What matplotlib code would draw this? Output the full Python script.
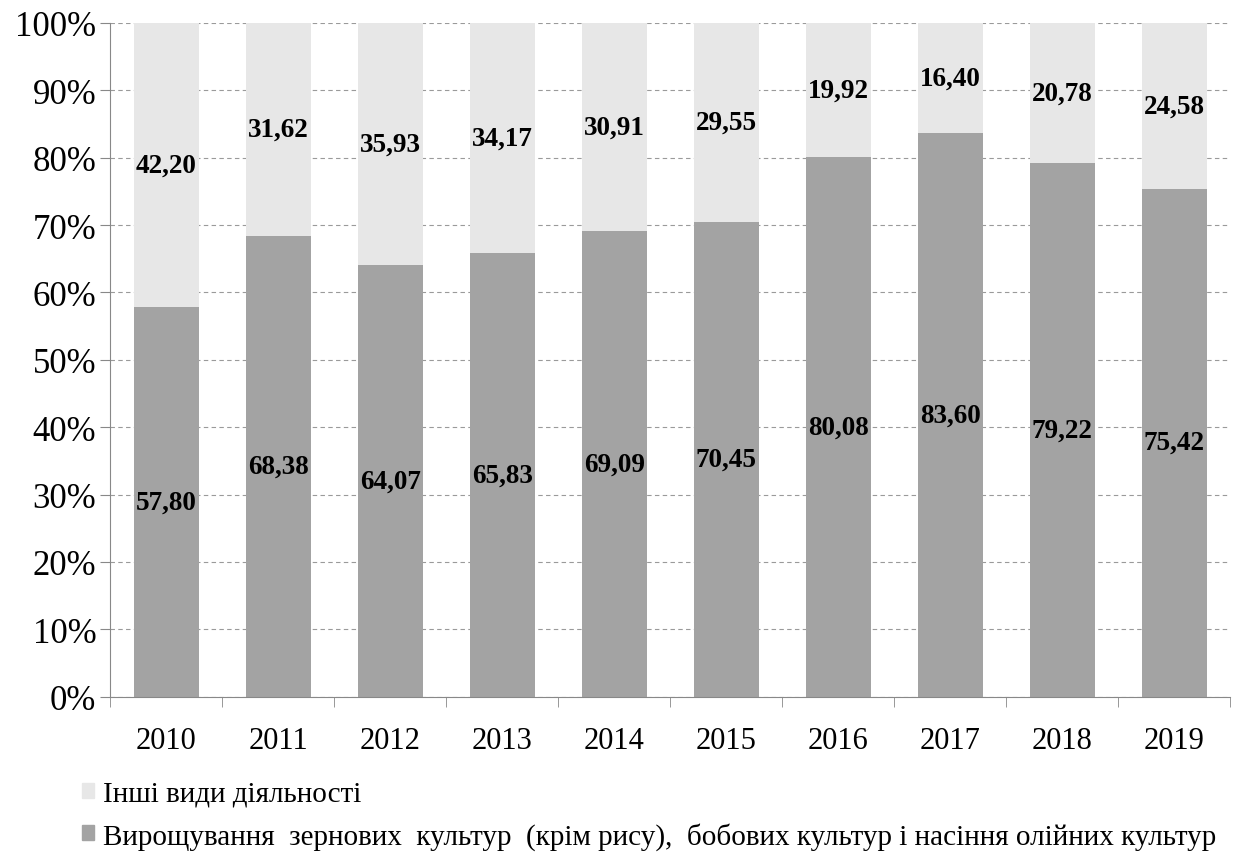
import numpy as np
import matplotlib
matplotlib.use('Agg')
import matplotlib.pyplot as plt
from matplotlib.patches import Patch

plt.rcParams['font.family'] = ['Liberation Serif', 'DejaVu Serif']

# shares of agricultural output, %
years = ['2010', '2011', '2012', '2013', '2014', '2015', '2016', '2017', '2018', '2019']
grain = [57.80, 68.38, 64.07, 65.83, 69.09, 70.45, 80.08, 83.60, 79.22, 75.42]
other = [42.20, 31.62, 35.93, 34.17, 30.91, 29.55, 19.92, 16.40, 20.78, 24.58]

lbl_other = 'Інші види діяльності'
lbl_grain = 'Вирощування  зернових  культур  (крім рису),  бобових культур і насіння олійних культур'

c_grain = '#a3a3a3'
c_other = '#e7e7e7'

fig = plt.figure(figsize=(12.4, 8.54), dpi=100)
ax = fig.add_axes([0.089, 0.183, 0.903, 0.789])

x = np.arange(len(years))
w = 0.58
ax.bar(x, grain, w, color=c_grain, zorder=2)
ax.bar(x, other, w, bottom=grain, color=c_other, zorder=2)

for i in range(len(years)):
    ax.text(x[i], grain[i] / 2, f'{grain[i]:.2f}'.replace('.', ','),
            ha='center', va='center', fontsize=19.5, fontweight='bold', zorder=3)
    ax.text(x[i], grain[i] + other[i] / 2, f'{other[i]:.2f}'.replace('.', ','),
            ha='center', va='center', fontsize=19.5, fontweight='bold', zorder=3)

ax.set_xlim(-0.5, len(years) - 0.5)
ax.set_ylim(0, 100)
ax.set_yticks(np.arange(0, 101, 10))
ax.set_yticklabels([f'{v}%' for v in range(0, 101, 10)])
ax.yaxis.grid(True, linestyle=(0, (4, 3)), color='#9a9a9a', linewidth=0.8, zorder=0)
ax.set_xticks(x)
ax.set_xticklabels(years)
ax.set_xticks(np.arange(-0.5, len(years)), minor=True)
ax.tick_params(axis='x', which='major', length=0, labelsize=22, pad=21)
ax.tick_params(axis='x', which='minor', length=7, color='#888888', direction='out')
ax.tick_params(axis='y', length=7, color='#888888', labelsize=25, pad=3)

for s in ['top', 'right']:
    ax.spines[s].set_visible(False)
for s in ['left', 'bottom']:
    ax.spines[s].set_color('#888888')

handles = [Patch(color=c_other), Patch(color=c_grain)]
fig.legend(handles, [lbl_other, lbl_grain], loc='lower left', bbox_to_anchor=(0.066, 0.004),
           frameon=False, fontsize=21, handlelength=0.42, handleheight=0.42,
           handletextpad=0.3, labelspacing=0.52, borderpad=0, borderaxespad=0)

fig.savefig('out.png', dpi=100)
